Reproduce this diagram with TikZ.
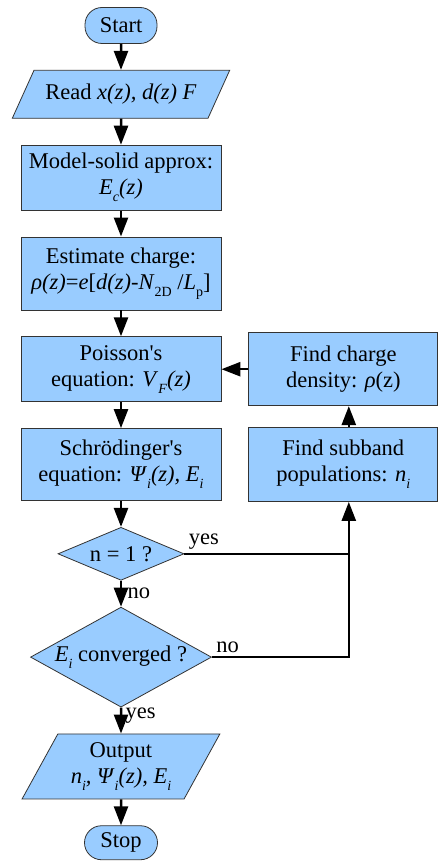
\documentclass[tikz,border=0pt]{standalone}
\usepackage{fontspec}
\setmainfont{Liberation Serif}
\usetikzlibrary{arrows.meta,positioning,shapes.geometric,calc}
\definecolor{boxblue}{HTML}{99CCFF}
\definecolor{rim}{HTML}{333333}
\newcommand{\lo}[1]{\raisebox{-0.3em}{\fontsize{14}{14}\selectfont #1}}

\begin{document}
\begin{tikzpicture}[
  x=1pt, y=-1pt,
  font=\fontsize{22.5}{26}\selectfont,
  node distance=26pt and 27pt,
  proc/.style={draw=rim,fill=boxblue,line width=0.8pt,minimum width=200pt,minimum height=65pt,align=center,inner sep=2pt},
  term/.style={draw=rim,fill=boxblue,line width=0.8pt,rounded corners=17pt,minimum width=72pt,minimum height=36pt},
  io/.style={trapezium,trapezium stretches=true,draw=rim,fill=boxblue,line width=0.8pt,align=center,inner sep=1pt},
  dec/.style={diamond,draw=rim,fill=boxblue,line width=0.8pt,inner sep=0pt},
  arr/.style={-{Triangle[length=19pt,width=14pt]},line width=2.5pt}
]
\useasboundingbox (0,0) rectangle (438,861);
\node[term] (start) at (121,25.5) {Start};
\node[io,below=of start,trapezium left angle=49.5,trapezium right angle=130.5,minimum width=218pt,minimum height=48pt] (read) {Read \textit{x(z), d(z) F}};
\node[proc,below=of read] (model) {Model-solid approx:\\\textit{E}\lo{\textit{c}}\textit{(z)}};
\node[proc,below=of model,minimum height=73pt] (estim) {Estimate charge:\\\textit{ρ(z)}=\textit{e}[\textit{d(z)}-\textit{N}\lo{2D} /\textit{L}\lo{p}]};
\node[proc,below=of estim] (poisson) {Poisson\textquotesingle s\\equation: \textit{V}\lo{\textit{F}}\textit{(z)}};
\node[proc,below=of poisson,minimum height=72pt] (schrod) {Schrödinger\textquotesingle s\\equation: \textit{Ψ}\lo{\textit{i}}\textit{(z), E}\lo{\textit{i}}};
\node[dec,below=of schrod,aspect=2.38,minimum width=126pt,minimum height=53pt] (isone) {n = 1 ?};
\node[dec,below=of isone,aspect=1.81,minimum width=181pt,minimum height=100pt] (conv) {\textit{E}\lo{\textit{i}} converged ?};
\node[io,below=of conv,trapezium left angle=59.7,trapezium right angle=120.3,minimum width=198pt,minimum height=65pt] (output) {Output\\\textit{n}\lo{\textit{i}}\textit{, Ψ}\lo{\textit{i}}\textit{(z), E}\lo{\textit{i}}};
\node[term,below=of output,minimum width=73pt,minimum height=34pt] (stop) {Stop};

\node[proc,right=of poisson,minimum width=189pt,minimum height=73pt] (density) {Find charge\\density: \textit{ρ}(z)};
\node[proc,right=of schrod,minimum width=189pt,minimum height=74pt] (subband) {Find subband\\populations: \textit{n}\lo{\textit{i}}};

\draw[arr] (start) -- (read);
\draw[arr] (read) -- (model);
\draw[arr] (model) -- (estim);
\draw[arr] (estim) -- (poisson);
\draw[arr] (poisson) -- (schrod);
\draw[arr] (schrod) -- (isone);
\draw[arr] (isone) -- node[right,xshift=2pt]{no} (conv);
\draw[arr] (conv) -- node[right,pos=.3]{yes} (output);
\draw[arr] (output) -- (stop);

\coordinate (rise) at ($(subband.south)+(5.5,0)$);
\draw[arr] (conv.east) -| node[pos=0,anchor=south west]{no} (rise);
\draw[line width=2.5pt] (isone.east) node[anchor=south west]{yes} -- (isone.east -| rise);
\draw[arr] ($(subband.north)+(5.5,0)$) -- ($(density.south)+(5.5,0)$);
\draw[arr] (density) -- (poisson);
\end{tikzpicture}
\end{document}
